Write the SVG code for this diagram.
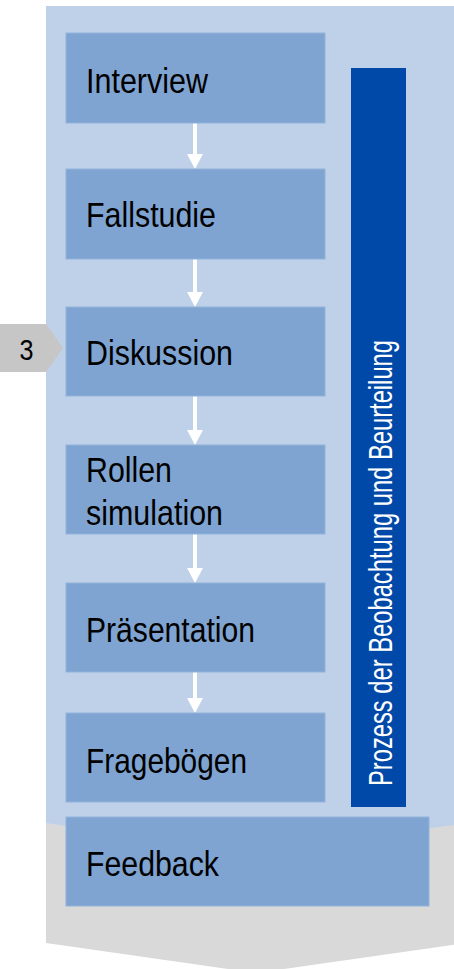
<svg xmlns="http://www.w3.org/2000/svg" width="454" height="969" viewBox="0 0 454 969">
<defs>
<style>
.box{fill:#7FA4D1;stroke:#93B3DA;stroke-width:1}
.lbl{font-family:"Liberation Sans Narrow","Liberation Sans",Arial,sans-serif;font-size:35px;fill:#000}
.arr{fill:#FFFFFF}
</style>
</defs>
<rect width="454" height="969" fill="#FFFFFF"/>
<g id="background">
<polygon points="46,790 466,790 466,943 256,973 46,943" fill="#D9D9D9"/>
<path d="M46,6 L466,6 L466,823 Q256,857 46,823 Z" fill="#BFD1E9"/>
</g>
<g id="badge">
<polygon points="0,324 46,324 63,348 46,372 0,372" fill="#C6C6C6"/>
<text x="26.5" y="360" text-anchor="middle" font-family="Liberation Sans Narrow, Liberation Sans, Arial, sans-serif" font-size="30" textLength="14" lengthAdjust="spacingAndGlyphs" fill="#000">3</text>
</g>
<g id="process-bar">
<rect x="351" y="68" width="55" height="739" fill="#0049A8"/>
<text transform="translate(392,786) rotate(-90)" x="0" y="0" font-family="Liberation Sans Narrow, Liberation Sans, Arial, sans-serif" font-size="33" fill="#FFFFFF" textLength="446" lengthAdjust="spacingAndGlyphs">Prozess der Beobachtung und Beurteilung</text>
</g>
<g id="connectors">
<rect class="arr" x="193" y="121" width="4" height="35"/><polygon class="arr" points="187,154 203,154 195,169"/>
<rect class="arr" x="193" y="257" width="4" height="36"/><polygon class="arr" points="187,292 203,292 195,307"/>
<rect class="arr" x="193" y="394" width="4" height="37"/><polygon class="arr" points="187,430 203,430 195,445"/>
<rect class="arr" x="193" y="532" width="4" height="37"/><polygon class="arr" points="187,568 203,568 195,583"/>
<rect class="arr" x="193" y="670" width="4" height="29"/><polygon class="arr" points="187,698 203,698 195,713"/>
</g>
<g id="n-interview"><rect class="box" x="66" y="33" width="259" height="90"/><text class="lbl" x="86" y="93" textLength="122" lengthAdjust="spacingAndGlyphs">Interview</text></g>
<g id="n-fallstudie"><rect class="box" x="66" y="169" width="259" height="90"/><text class="lbl" x="86" y="227" textLength="130" lengthAdjust="spacingAndGlyphs">Fallstudie</text></g>
<g id="n-diskussion"><rect class="box" x="66" y="307" width="259" height="89"/><text class="lbl" x="86" y="365" textLength="147" lengthAdjust="spacingAndGlyphs">Diskussion</text></g>
<g id="n-rollen"><rect class="box" x="66" y="445" width="259" height="89"/><text class="lbl" x="86" y="482" textLength="86" lengthAdjust="spacingAndGlyphs">Rollen</text><text class="lbl" x="86" y="525" textLength="137" lengthAdjust="spacingAndGlyphs">simulation</text></g>
<g id="n-praesentation"><rect class="box" x="66" y="583" width="259" height="89"/><text class="lbl" x="86" y="642" textLength="169" lengthAdjust="spacingAndGlyphs">Präsentation</text></g>
<g id="n-frageboegen"><rect class="box" x="66" y="713" width="259" height="89"/><text class="lbl" x="86" y="773" textLength="161" lengthAdjust="spacingAndGlyphs">Fragebögen</text></g>
<g id="n-feedback"><rect class="box" x="66" y="817" width="363" height="89"/><text class="lbl" x="86" y="876" textLength="133" lengthAdjust="spacingAndGlyphs">Feedback</text></g>
</svg>
